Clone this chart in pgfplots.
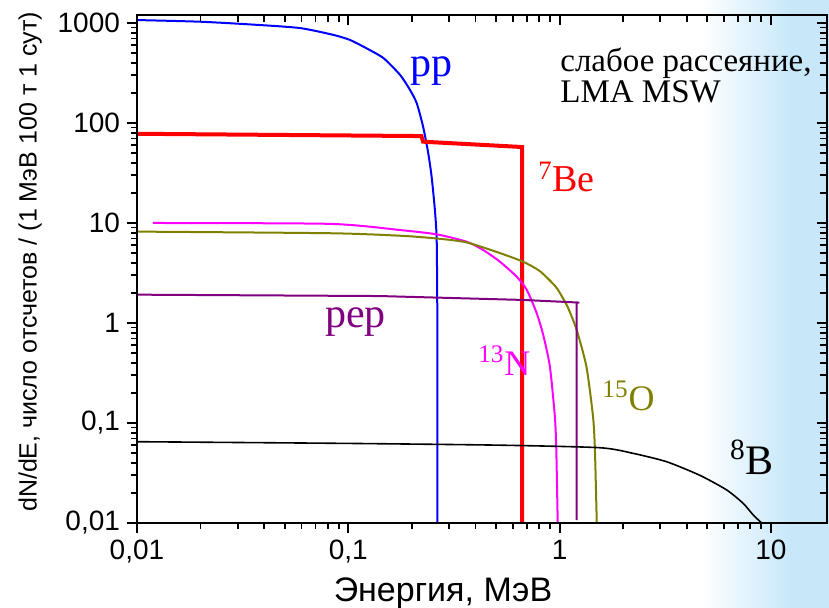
\documentclass[border=0pt]{standalone}
\usepackage{fontspec}
\setmainfont{Liberation Serif}
\newfontfamily\arial{Liberation Sans}
\usepackage{pgfplots}
\pgfplotsset{compat=1.18}

\definecolor{bgblue}{RGB}{200,232,250}
\definecolor{oliveO}{RGB}{128,128,0}
\definecolor{purpleP}{RGB}{128,0,128}
\definecolor{magentaN}{RGB}{255,0,255}
\definecolor{blueP}{RGB}{0,0,255}
\definecolor{redB}{RGB}{255,0,0}

% common frame for both axes
\pgfplotsset{
  chartframe/.style={
    width=345pt, height=254pt, scale only axis,
    at={(0,0)}, anchor=south west,
    xmin=0.01, xmax=18.44, ymin=0.01, ymax=1202,
    axis line style={line width=1.4pt},
    major tick style={line width=1pt, black},
    minor tick style={line width=0.9pt, black},
  }
}

\begin{document}
\begin{tikzpicture}
% light blue band at the right
\fill[bgblue] (326.5pt,-42.5pt) rectangle (346pt,261.5pt);
\shade[left color=white, right color=bgblue] (281.5pt,-42.5pt) rectangle (326.6pt,261.5pt);

\begin{loglogaxis}[chartframe,
  tick align=outside, xtick pos=left, ytick pos=left,
  major tick length=5pt, minor tick length=2.8pt,
  xtick={0.01,0.1,1,10}, xticklabels={{0,01},{0,1},1,10},
  ytick={0.01,0.1,1,10,100,1000}, yticklabels={{0,01},{0,1},1,10,100,1000},
  tick label style={font=\arial\fontsize{14}{14}\selectfont},
  xlabel={Энергия, МэВ},
  xlabel style={font=\arial\fontsize{17}{17}\selectfont, at={(axis description cs:0.4435,-0.1555)}, anchor=base},
  ylabel={dN/dE, число отсчетов / (1 МэВ 100 т 1 сут)},
  ylabel style={font=\arial\fontsize{12.5}{12.5}\selectfont, at={(axis description cs:-0.155,0.514)}, anchor=center},
]
% pp
\addplot[blueP, line width=1pt, smooth, tension=0.4] coordinates {
  (0.01,1070) (0.0198,1030) (0.035,965) (0.059,890) (0.085,760) (0.102,676)
  (0.122,558) (0.147,444) (0.176,302) (0.196,214) (0.211,157) (0.226,92)
  (0.239,50) (0.248,29) (0.257,13.5) (0.262,7.0) (0.2635,2) (0.264,0.68) (0.264,0.01)
};
% 7Be
\addplot[redB, line width=2pt] coordinates {
  (0.01,78) (0.222,74) (0.226,65) (0.665,57.5) (0.665,0.01)
};
% 13N
\addplot[magentaN, line width=1pt, smooth, tension=0.4] coordinates {
  (0.0119,10.0) (0.082,9.8) (0.176,8.5) (0.262,7.7) (0.363,6.5) (0.435,5.37)
  (0.522,4.1) (0.627,2.9) (0.70,2.14) (0.78,1.25) (0.838,0.75) (0.90,0.366)
  (0.95,0.116) (0.965,0.054) (0.98,0.01)
};
% 15O
\addplot[oliveO, line width=1pt, smooth, tension=0.4] coordinates {
  (0.01,8.2) (0.082,7.9) (0.176,7.46) (0.262,7.0) (0.363,6.4) (0.522,5.0)
  (0.672,4.1) (0.807,3.3) (0.96,2.3) (1.04,1.75) (1.10,1.4) (1.205,0.85)
  (1.34,0.366) (1.44,0.116) (1.47,0.054) (1.50,0.01)
};
% pep
\addplot[purpleP, line width=1pt] coordinates {
  (0.01,1.92) (0.141,1.86) (0.672,1.70) (1.24,1.60) (1.205,1.605) (1.205,0.0107)
};
% 8B
\addplot[black, line width=0.8pt, smooth, tension=0.4] coordinates {
  (0.01,0.065) (0.1,0.0625) (0.522,0.060) (1.55,0.0566) (2.23,0.0497)
  (3.21,0.041) (4.61,0.030) (6.18,0.0214) (7.4,0.0157) (8.26,0.012) (9.05,0.01)
};

\node[anchor=base west, inner sep=0pt, font=\fontsize{16.5}{16.5}\selectfont] at (rel axis cs:0.613,0.888) {слабое рассеяние,};
\node[anchor=base west, inner sep=0pt, font=\fontsize{16.5}{16.5}\selectfont] at (rel axis cs:0.613,0.827) {LMA MSW};
\node[anchor=base west, inner sep=0pt, blueP, font=\fontsize{21}{21}\selectfont] at (rel axis cs:0.396,0.878) {pp};
\node[anchor=base west, inner sep=0pt, redB, font=\fontsize{19}{19}\selectfont] at (rel axis cs:0.581,0.652) {\textsuperscript{7}Be};
\node[anchor=base west, inner sep=0pt, purpleP, font=\fontsize{21}{21}\selectfont] at (rel axis cs:0.272,0.384) {pep};
\node[anchor=base west, inner sep=0pt, magentaN, font=\fontsize{18}{18}\selectfont] at (rel axis cs:0.494,0.291) {\textsuperscript{13}N};
\node[anchor=base west, inner sep=0pt, oliveO, font=\fontsize{18}{18}\selectfont] at (rel axis cs:0.674,0.222) {\textsuperscript{15}O};
\node[anchor=base west, inner sep=0pt, black, font=\fontsize{21}{21}\selectfont] at (rel axis cs:0.859,0.0945) {\textsuperscript{8}B};
\end{loglogaxis}

% inward ticks on top and right
\begin{loglogaxis}[chartframe,
  tick align=inside, xtick pos=right, ytick pos=right,
  major tick length=5pt, minor tick length=3.5pt,
  xtick={0.01,0.1,1,10}, xticklabels={},
  ytick={0.01,0.1,1,10,100,1000}, yticklabels={},
]
\end{loglogaxis}

\pgfresetboundingbox
\path[use as bounding box] (-68.5pt,-42.5pt) rectangle (346pt,261.5pt);
\end{tikzpicture}
\end{document}
